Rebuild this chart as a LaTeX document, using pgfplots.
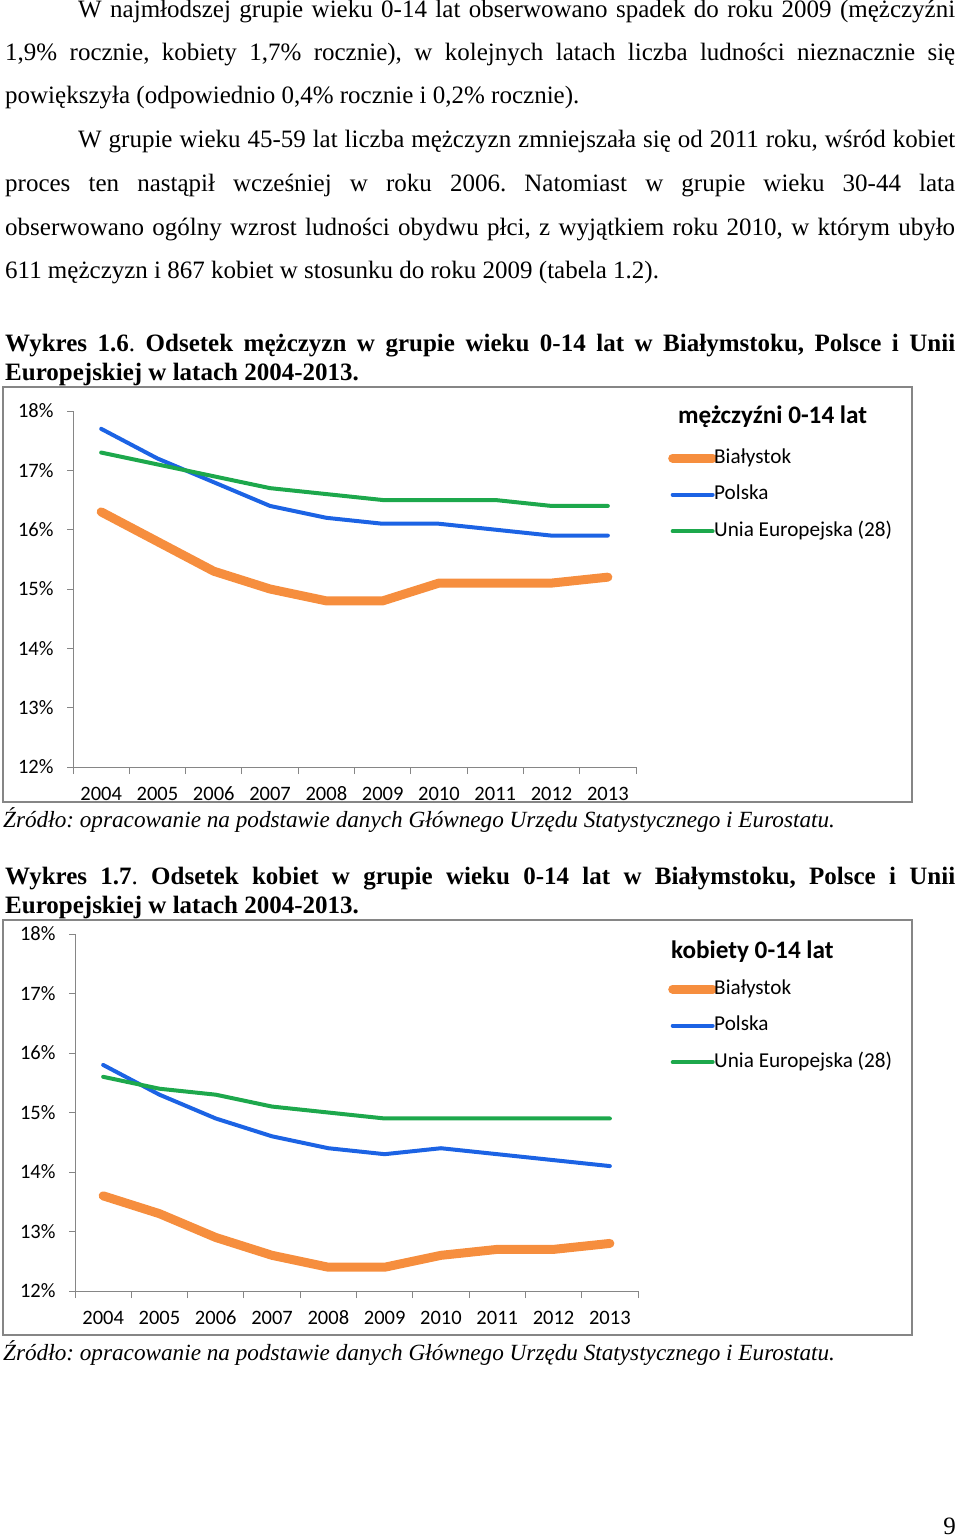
\documentclass[border=0pt]{standalone}
\usepackage{fontspec}
\setmainfont{Liberation Serif}
\newfontfamily\calibri{Carlito}
\usepackage{pgfplots}
\pgfplotsset{compat=1.18}
\frenchspacing
\definecolor{cOr}{HTML}{F68E3E}
\definecolor{cBl}{HTML}{1C63E4}
\definecolor{cGr}{HTML}{1DA84C}
\definecolor{axg}{HTML}{868686}
\newcommand\body{\fontsize{25bp}{30bp}\selectfont}
\newcommand\src{\fontsize{23.2bp}{28bp}\selectfont\itshape}
\newcommand\tickfont{\calibri\fontsize{20.5bp}{24bp}\selectfont}
\newcommand\legfont{\calibri\fontsize{21.2bp}{24bp}\selectfont}
\pgfplotsset{mychart/.style={
  scale only axis, width=563bp,
  xmin=-0.5, xmax=9.5, ymin=12, ymax=18,
  axis lines=left, axis line style={axg, line width=1bp, -},
  every tick/.style={axg, line width=1bp},
  tick align=outside,
  xtick={0,...,9}, xticklabels={2004,2005,2006,2007,2008,2009,2010,2011,2012,2013},
  major x tick style={draw=none},
  minor xtick={-0.5,0.5,1.5,2.5,3.5,4.5,5.5,6.5,7.5,8.5,9.5},
  minor tick length=7bp, major tick length=6bp,
  ytick={12,13,14,15,16,17,18},
  yticklabels={12\%,13\%,14\%,15\%,16\%,17\%,18\%},
  ticklabel style={font=\tickfont, text=black},
  xticklabel style={anchor=north, yshift=-10bp, text height=14bp, text depth=0bp},
  yticklabel style={anchor=east, xshift=-10bp},
  clip=false,
  legend cell align=left,
  legend image code/.code={%
    \begin{pgfinterruptboundingbox}\draw[##1] (1bp,0bp) -- (40bp,0bp);\end{pgfinterruptboundingbox}%
    \path (0bp,0bp) rectangle (36bp,0bp);},
  legend style={draw=none, fill=none, inner sep=0pt, row sep=16.5bp, column sep=0bp,
    font=\legfont, anchor=north west,
    nodes={inner xsep=1bp, inner ysep=0bp, text height=15bp, text depth=5bp}},
}}
\begin{document}
\begin{tikzpicture}[x=1bp,y=1bp]
\path (0,0) rectangle (960,-1537);
% body text
\node[anchor=base west,inner sep=0] at (78,-18) {\body\makebox[877bp][s]{W najmłodszej grupie wieku 0-14 lat obserwowano spadek do roku 2009 (mężczyźni}};
\node[anchor=base west,inner sep=0] at (5,-61) {\body\makebox[950bp][s]{1,9\% rocznie, kobiety 1,7\% rocznie), w kolejnych latach liczba ludności nieznacznie się}};
\node[anchor=base west,inner sep=0] at (5,-104) {\body powiększyła (odpowiednio 0,4\% rocznie i 0,2\% rocznie).};
\node[anchor=base west,inner sep=0] at (78,-148) {\body\makebox[877bp][s]{W grupie wieku 45-59 lat liczba mężczyzn zmniejszała się od 2011 roku, wśród kobiet}};
\node[anchor=base west,inner sep=0] at (5,-191) {\body\makebox[950bp][s]{proces ten nastąpił wcześniej w roku 2006. Natomiast w grupie wieku 30-44 lata}};
\node[anchor=base west,inner sep=0] at (5,-235) {\body\makebox[950bp][s]{obserwowano ogólny wzrost ludności obydwu płci, z wyjątkiem roku 2010, w którym ubyło}};
\node[anchor=base west,inner sep=0] at (5,-278) {\body 611 mężczyzn i 867 kobiet w stosunku do roku 2009 (tabela 1.2).};
% caption 1
\node[anchor=base west,inner sep=0] at (5,-351) {\body\makebox[950bp][s]{\textbf{Wykres 1.6}. \textbf{Odsetek mężczyzn w grupie wieku 0-14 lat w Białymstoku, Polsce i Unii}}};
\node[anchor=base west,inner sep=0] at (5,-380) {\body\textbf{Europejskiej w latach 2004-2013.}};
% frame 1
\draw[axg, line width=1.3bp] (3,-387) rectangle (912,-802);
\begin{axis}[mychart, height=356bp, at={(73bp,-767bp)}, anchor=south west,
  legend style={at={(1.0568,0.896)}}]
\addplot[cOr, line width=9bp, line join=round, line cap=round] coordinates {(0,16.3)(1,15.8)(2,15.3)(3,15.0)(4,14.8)(5,14.8)(6,15.1)(7,15.1)(8,15.1)(9,15.2)};
\addplot[cBl, line width=4bp, line join=round, line cap=round] coordinates {(0,17.7)(1,17.2)(2,16.8)(3,16.4)(4,16.2)(5,16.1)(6,16.1)(7,16.0)(8,15.9)(9,15.9)};
\addplot[cGr, line width=4bp, line join=round, line cap=round] coordinates {(0,17.3)(1,17.1)(2,16.9)(3,16.7)(4,16.6)(5,16.5)(6,16.5)(7,16.5)(8,16.4)(9,16.4)};
\legend{Białystok,Polska,Unia Europejska (28)}
\end{axis}
\node[anchor=west,inner sep=0] at (678,-417) {\calibri\fontsize{25.2bp}{28bp}\selectfont\bfseries mężczyźni 0-14 lat};
\node[anchor=base west,inner sep=0] at (3,-827) {\src Źródło: opracowanie na podstawie danych Głównego Urzędu Statystycznego i Eurostatu.};
% caption 2
\node[anchor=base west,inner sep=0] at (5,-884) {\body\makebox[950bp][s]{\textbf{Wykres 1.7}. \textbf{Odsetek kobiet w grupie wieku 0-14 lat w Białymstoku, Polsce i Unii}}};
\node[anchor=base west,inner sep=0] at (5,-913) {\body\textbf{Europejskiej w latach 2004-2013.}};
\draw[axg, line width=1.3bp] (3,-920) rectangle (912,-1335);
\begin{axis}[mychart, height=357bp, at={(75bp,-1291bp)}, anchor=south west,
  legend style={at={(1.0533,0.874)}}]
\addplot[cOr, line width=9bp, line join=round, line cap=round] coordinates {(0,13.6)(1,13.3)(2,12.9)(3,12.6)(4,12.4)(5,12.4)(6,12.6)(7,12.7)(8,12.7)(9,12.8)};
\addplot[cBl, line width=4bp, line join=round, line cap=round] coordinates {(0,15.8)(1,15.3)(2,14.9)(3,14.6)(4,14.4)(5,14.3)(6,14.4)(7,14.3)(8,14.2)(9,14.1)};
\addplot[cGr, line width=4bp, line join=round, line cap=round] coordinates {(0,15.6)(1,15.4)(2,15.3)(3,15.1)(4,15.0)(5,14.9)(6,14.9)(7,14.9)(8,14.9)(9,14.9)};
\legend{Białystok,Polska,Unia Europejska (28)}
\end{axis}
\node[anchor=west,inner sep=0] at (671,-952) {\calibri\fontsize{25.2bp}{28bp}\selectfont\bfseries kobiety 0-14 lat};
\node[anchor=base west,inner sep=0] at (3,-1360) {\src Źródło: opracowanie na podstawie danych Głównego Urzędu Statystycznego i Eurostatu.};
\node[anchor=base east,inner sep=0] at (956,-1534) {\body 9};
\end{tikzpicture}
\end{document}
